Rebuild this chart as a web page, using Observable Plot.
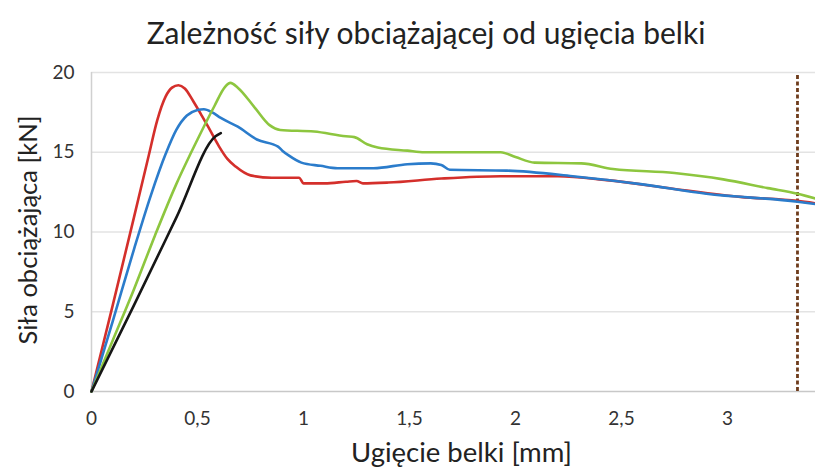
<!DOCTYPE html>
<html>
<head>
<meta charset="utf-8">
<script src="https://cdn.jsdelivr.net/npm/d3@7"></script>
<script src="https://cdn.jsdelivr.net/npm/@observablehq/plot@0.6"></script>
<style>
  html, body { margin: 0; padding: 0; background: #fff; }
  #title { height: 56px; width: 815px; text-align: center; font-family: Lato, sans-serif; font-size: 30px; color: #222; line-height: 64px; padding-left: 37px; box-sizing: border-box; white-space: nowrap; }
  #chart svg { display: block; }
</style>
</head>
<body>
<div id="title"></div>
<div id="chart"></div>
<script>
const title = "Zależność siły obciążającej od ugięcia belki";
const xLabel = "Ugięcie belki [mm]";
const yLabel = "Siła obciążająca [kN]";
const xTicks = [0, 0.5, 1, 1.5, 2, 2.5, 3];
const yTicks = [0, 5, 10, 15, 20];
const markerX = 3.33;

const redX = [0, 0.1, 0.2, 0.27, 0.31, 0.35, 0.38, 0.41, 0.44, 0.48, 0.52, 0.55, 0.6, 0.64, 0.68, 0.75, 0.85, 0.98, 1.0, 1.1, 1.2, 1.25, 1.28, 1.4, 1.65, 1.93, 2.2, 2.43, 2.75, 3.06, 3.33, 3.415];
const redY = [0, 5.4, 10.9, 14.8, 17.0, 18.5, 19.05, 19.2, 19.0, 18.2, 17.3, 16.6, 15.4, 14.6, 14.1, 13.55, 13.4, 13.4, 13.05, 13.05, 13.15, 13.2, 13.05, 13.1, 13.35, 13.5, 13.5, 13.25, 12.7, 12.2, 11.95, 11.8];

const blueX = [0, 0.1, 0.2, 0.28, 0.35, 0.4, 0.45, 0.5, 0.53, 0.57, 0.61, 0.69, 0.78, 0.88, 0.9, 0.93, 0.99, 1.08, 1.16, 1.33, 1.49, 1.6, 1.65, 1.69, 1.96, 2.27, 2.59, 2.9, 3.33, 3.415];
const blueY = [0, 4.4, 8.9, 12.3, 14.9, 16.4, 17.3, 17.65, 17.7, 17.5, 17.15, 16.6, 15.8, 15.35, 15.1, 14.8, 14.35, 14.15, 14.0, 14.0, 14.25, 14.3, 14.2, 13.9, 13.85, 13.5, 13.0, 12.4, 11.9, 11.75];

const greenX = [0, 0.1, 0.2, 0.3, 0.4, 0.5, 0.58, 0.63, 0.655, 0.69, 0.77, 0.84, 0.89, 1.05, 1.2, 1.24, 1.3, 1.35, 1.49, 1.57, 1.93, 2.0, 2.09, 2.31, 2.46, 2.75, 2.98, 3.19, 3.33, 3.415];
const greenY = [0, 3.2, 6.4, 9.8, 13.0, 15.8, 17.9, 19.1, 19.35, 19.05, 17.8, 16.7, 16.4, 16.3, 16.0, 15.95, 15.5, 15.3, 15.1, 15.0, 15.0, 14.7, 14.35, 14.3, 13.95, 13.7, 13.3, 12.75, 12.4, 12.1];

const blackX = [0, 0.2, 0.4, 0.585, 0.61];
const blackY = [0, 5.4, 10.9, 16.0, 16.2];

const series = [
  {name: "S1", color: "#d42f2b", xs: redX, ys: redY},
  {name: "S2", color: "#2b7ccb", xs: blueX, ys: blueY},
  {name: "S3", color: "#8dc63f", xs: greenX, ys: greenY},
  {name: "S4", color: "#161616", xs: blackX, ys: blackY}
];
const rows = series.flatMap(s => s.xs.map((x, i) => ({series: s.name, x, y: s.ys[i]})));
const fmt = d => String(d).replace(".", ",");

document.getElementById("title").textContent = title;

const chart = Plot.plot({
  width: 815,
  height: 415,
  marginLeft: 91,
  marginRight: 0,
  marginTop: 16,
  marginBottom: 80,
  style: {fontFamily: "Lato, sans-serif", background: "#fff"},
  x: {domain: [0, 3.415]},
  y: {domain: [0, 20]},
  color: {domain: series.map(s => s.name), range: series.map(s => s.color)},
  marks: [
    Plot.ruleY(yTicks.filter(d => d > 0), {stroke: "#e3e3e3", strokeWidth: 1.5}),
    Plot.ruleY([0], {stroke: "#c8c8c8", strokeWidth: 1.5}),
    Plot.ruleX([0], {stroke: "#d0d0d0", strokeWidth: 1.5}),
    Plot.axisX({ticks: xTicks, tickFormat: fmt, tickSize: 0, tickPadding: 20, fontSize: 19, color: "#333", label: null}),
    Plot.axisY({ticks: yTicks, tickFormat: fmt, tickSize: 0, tickPadding: 17, fontSize: 19, color: "#333", label: null}),
    Plot.ruleX([markerX], {y1: 0, y2: 19.85, stroke: "#6e3c1c", strokeWidth: 2.8, strokeDasharray: "4,2.5"}),
    Plot.line(rows, {x: "x", y: "y", z: "series", stroke: "series", strokeWidth: 2.6, curve: "monotone-x"}),
    Plot.text([xLabel], {frameAnchor: "bottom", dx: 8, dy: 70, fontSize: 27.5, fill: "#222"}),
    Plot.text([yLabel], {frameAnchor: "left", textAnchor: "middle", dx: -63, dy: -2, rotate: -90, fontSize: 25.5, fill: "#222"})
  ]
});
document.getElementById("chart").appendChild(chart);
</script>
</body>
</html>
